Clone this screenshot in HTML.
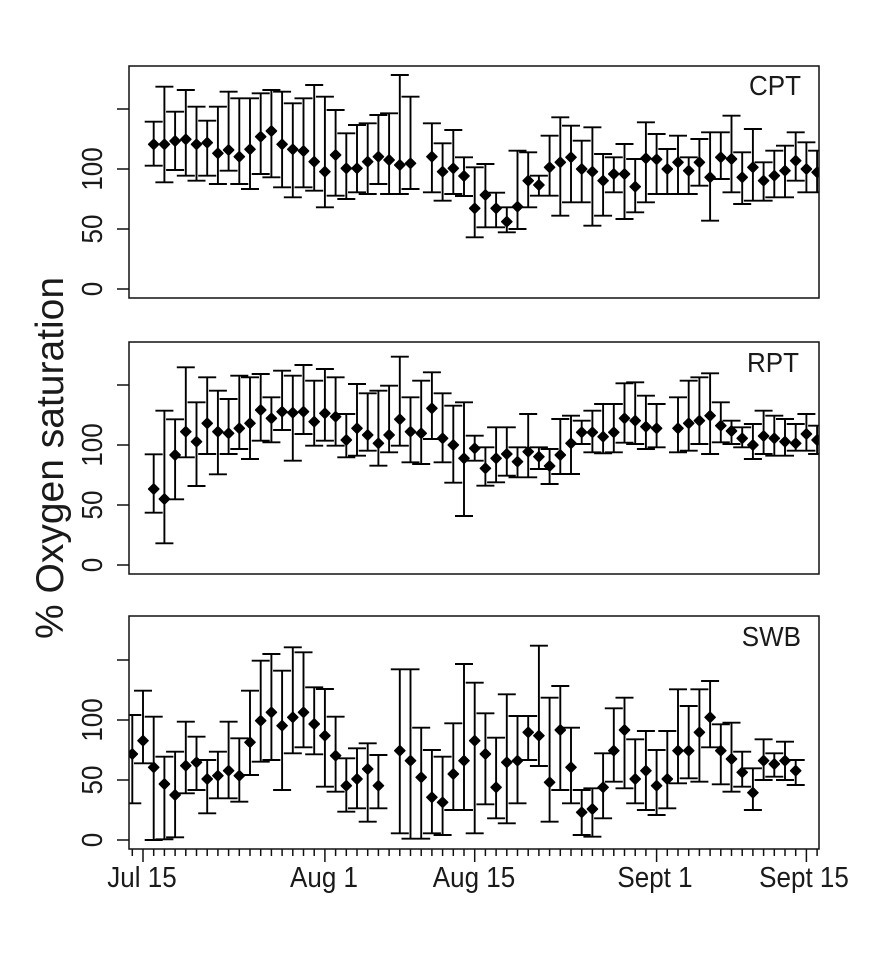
<!DOCTYPE html>
<html><head><meta charset="utf-8"><style>
html,body{margin:0;padding:0;background:#fff;}
svg{display:block;}
text{font-family:"Liberation Sans",Arial,sans-serif;fill:#1a1a1a;}
</style></head><body>
<svg width="884" height="977" viewBox="0 0 884 977" xmlns="http://www.w3.org/2000/svg">
<defs>
<clipPath id="c1"><rect x="129" y="66" width="690" height="232"/></clipPath>
<clipPath id="c2"><rect x="129" y="342" width="690" height="232"/></clipPath>
<clipPath id="c3"><rect x="129" y="616" width="690" height="233"/></clipPath>
</defs>

<text transform="translate(63,458) rotate(-90)" text-anchor="middle" font-size="39">% Oxygen saturation</text>

<g clip-path="url(#c1)">
<path fill="none" stroke="#000" stroke-width="1.9" d="M153.7 121.7V165.7M144.7 121.7h18M144.7 165.7h18
M164.4 86.7V182.3M155.4 86.7h18M155.4 182.3h18
M175.1 111.7V170M166.1 111.7h18M166.1 170h18
M185.8 90V175.7M176.8 90h18M176.8 175.7h18
M196.5 106.7V180.7M187.5 106.7h18M187.5 180.7h18
M207.2 120.7V175.7M198.2 120.7h18M198.2 175.7h18
M217.9 106.7V184M208.9 106.7h18M208.9 184h18
M228.6 91.7V170.7M219.6 91.7h18M219.6 170.7h18
M239.3 98.3V184M230.3 98.3h18M230.3 184h18
M250 98.3V189M241 98.3h18M241 189h18
M260.7 93.3V174M251.7 93.3h18M251.7 174h18
M271.4 90V177.3M262.4 90h18M262.4 177.3h18
M282.1 91.7V187.3M273.1 91.7h18M273.1 187.3h18
M292.8 103.3V197.3M283.8 103.3h18M283.8 197.3h18
M303.5 98.3V187.3M294.5 98.3h18M294.5 187.3h18
M314.2 85V190.7M305.2 85h18M305.2 190.7h18
M324.9 96.7V207.3M315.9 96.7h18M315.9 207.3h18
M335.6 110V195.7M326.6 110h18M326.6 195.7h18
M346.3 133.3V199M337.3 133.3h18M337.3 199h18
M357 125V192.3M348 125h18M348 192.3h18
M367.7 123.3V194M358.7 123.3h18M358.7 194h18
M378.4 115V184M369.4 115h18M369.4 184h18
M389.1 113.3V194M380.1 113.3h18M380.1 194h18
M399.8 75V194M390.8 75h18M390.8 194h18
M410.5 96.7V189M401.5 96.7h18M401.5 189h18
M431.9 123.3V192.3M422.9 123.3h18M422.9 192.3h18
M442.6 143.3V200.7M433.6 143.3h18M433.6 200.7h18
M453.3 130V194M444.3 130h18M444.3 194h18
M464 157.3V196M455 157.3h18M455 196h18
M474.7 167.3V237.3M465.7 167.3h18M465.7 237.3h18
M485.4 164V227.3M476.4 164h18M476.4 227.3h18
M496.1 192.7V227.3M487.1 192.7h18M487.1 227.3h18
M506.8 207.3V232.3M497.8 207.3h18M497.8 232.3h18
M517.5 150.7V229M508.5 150.7h18M508.5 229h18
M528.2 152.3V207.3M519.2 152.3h18M519.2 207.3h18
M538.9 175.7V195.7M529.9 175.7h18M529.9 195.7h18
M549.6 135.7V195.7M540.6 135.7h18M540.6 195.7h18
M560.3 117.3V215.7M551.3 117.3h18M551.3 215.7h18
M571 125.7V202.3M562 125.7h18M562 202.3h18
M581.7 140.7V202.3M572.7 140.7h18M572.7 202.3h18
M592.4 127.3V225.7M583.4 127.3h18M583.4 225.7h18
M603.1 154V215.7M594.1 154h18M594.1 215.7h18
M613.8 157.3V192.3M604.8 157.3h18M604.8 192.3h18
M624.5 144V219M615.5 144h18M615.5 219h18
M635.2 159V212.3M626.2 159h18M626.2 212.3h18
M645.9 122.3V202.3M636.9 122.3h18M636.9 202.3h18
M656.6 134V194M647.6 134h18M647.6 194h18
M667.3 149V194M658.3 149h18M658.3 194h18
M678 135.7V194M669 135.7h18M669 194h18
M688.7 157.3V194M679.7 157.3h18M679.7 194h18
M699.4 139V185.7M690.4 139h18M690.4 185.7h18
M710.1 132.3V220.7M701.1 132.3h18M701.1 220.7h18
M720.8 132.3V179M711.8 132.3h18M711.8 179h18
M731.5 115.7V192.3M722.5 115.7h18M722.5 192.3h18
M742.2 152.3V204M733.2 152.3h18M733.2 204h18
M752.9 129V200.7M743.9 129h18M743.9 200.7h18
M763.6 162.3V200.7M754.6 162.3h18M754.6 200.7h18
M774.3 150.7V197.3M765.3 150.7h18M765.3 197.3h18
M785 145.7V197.3M776 145.7h18M776 197.3h18
M795.7 132.3V180.7M786.7 132.3h18M786.7 180.7h18
M806.4 142.3V192.3M797.4 142.3h18M797.4 192.3h18
M817.1 150.7V192.3M808.1 150.7h18M808.1 192.3h18"/>
<path fill="#000" stroke="#000" stroke-width="1.6" stroke-linejoin="round" d="M153.7 139.3l5 5-5 5-5-5z
M164.4 139.3l5 5-5 5-5-5z
M175.1 136l5 5-5 5-5-5z
M185.8 134.3l5 5-5 5-5-5z
M196.5 139.3l5 5-5 5-5-5z
M207.2 137.7l5 5-5 5-5-5z
M217.9 148.3l5 5-5 5-5-5z
M228.6 145l5 5-5 5-5-5z
M239.3 151.7l5 5-5 5-5-5z
M250 144.3l5 5-5 5-5-5z
M260.7 131.7l5 5-5 5-5-5z
M271.4 126l5 5-5 5-5-5z
M282.1 139.3l5 5-5 5-5-5z
M292.8 144.3l5 5-5 5-5-5z
M303.5 146l5 5-5 5-5-5z
M314.2 156.7l5 5-5 5-5-5z
M324.9 166.7l5 5-5 5-5-5z
M335.6 150l5 5-5 5-5-5z
M346.3 163.3l5 5-5 5-5-5z
M357 163.3l5 5-5 5-5-5z
M367.7 156.7l5 5-5 5-5-5z
M378.4 151.7l5 5-5 5-5-5z
M389.1 155l5 5-5 5-5-5z
M399.8 160l5 5-5 5-5-5z
M410.5 158.3l5 5-5 5-5-5z
M431.9 151.7l5 5-5 5-5-5z
M442.6 166.7l5 5-5 5-5-5z
M453.3 163.3l5 5-5 5-5-5z
M464 171l5 5-5 5-5-5z
M474.7 203.3l5 5-5 5-5-5z
M485.4 190l5 5-5 5-5-5z
M496.1 203.3l5 5-5 5-5-5z
M506.8 216.7l5 5-5 5-5-5z
M517.5 201.7l5 5-5 5-5-5z
M528.2 175.7l5 5-5 5-5-5z
M538.9 180l5 5-5 5-5-5z
M549.6 162.3l5 5-5 5-5-5z
M560.3 157.3l5 5-5 5-5-5z
M571 152.3l5 5-5 5-5-5z
M581.7 164l5 5-5 5-5-5z
M592.4 166.7l5 5-5 5-5-5z
M603.1 175.7l5 5-5 5-5-5z
M613.8 169l5 5-5 5-5-5z
M624.5 169l5 5-5 5-5-5z
M635.2 181.7l5 5-5 5-5-5z
M645.9 153.3l5 5-5 5-5-5z
M656.6 154.3l5 5-5 5-5-5z
M667.3 164l5 5-5 5-5-5z
M678 157.3l5 5-5 5-5-5z
M688.7 165.7l5 5-5 5-5-5z
M699.4 157.3l5 5-5 5-5-5z
M710.1 172.3l5 5-5 5-5-5z
M720.8 152.3l5 5-5 5-5-5z
M731.5 154l5 5-5 5-5-5z
M742.2 172.3l5 5-5 5-5-5z
M752.9 162.3l5 5-5 5-5-5z
M763.6 175.7l5 5-5 5-5-5z
M774.3 170.7l5 5-5 5-5-5z
M785 165.7l5 5-5 5-5-5z
M795.7 155.7l5 5-5 5-5-5z
M806.4 164l5 5-5 5-5-5z
M817.1 167.3l5 5-5 5-5-5z"/>
</g>
<rect x="129" y="66" width="690" height="232" fill="none" stroke="#111" stroke-width="1.5"/>
<path stroke="#111" stroke-width="1.5" d="M117 289h12M117 229h12M117 169h12M117 109h12"/>
<text transform="translate(102,289) rotate(-90) scale(1,1.1)" text-anchor="middle" font-size="26">0</text>
<text transform="translate(102,229) rotate(-90) scale(1,1.1)" text-anchor="middle" font-size="26">50</text>
<text transform="translate(102,169) rotate(-90) scale(1,1.1)" text-anchor="middle" font-size="26">100</text>
<text transform="translate(801,95) scale(1,1.08)" text-anchor="end" font-size="26">CPT</text>

<g clip-path="url(#c2)">
<path fill="none" stroke="#000" stroke-width="1.9" d="M153.7 454.3V512.7M144.7 454.3h18M144.7 512.7h18
M164.4 410.7V543.3M155.4 410.7h18M155.4 543.3h18
M175.1 419.3V499.3M166.1 419.3h18M166.1 499.3h18
M185.8 367.3V457.3M176.8 367.3h18M176.8 457.3h18
M196.5 402.3V486M187.5 402.3h18M187.5 486h18
M207.2 377.3V454M198.2 377.3h18M198.2 454h18
M217.9 390.7V474.3M208.9 390.7h18M208.9 474.3h18
M228.6 399V454M219.6 399h18M219.6 454h18
M239.3 375.7V449M230.3 375.7h18M230.3 449h18
M250 377.3V459M241 377.3h18M241 459h18
M260.7 374V440.7M251.7 374h18M251.7 440.7h18
M271.4 397.3V442.3M262.4 397.3h18M262.4 442.3h18
M282.1 370.7V430M273.1 370.7h18M273.1 430h18
M292.8 375.7V460.7M283.8 375.7h18M283.8 460.7h18
M303.5 365V434M294.5 365h18M294.5 434h18
M314.2 380.7V445.7M305.2 380.7h18M305.2 445.7h18
M324.9 369V440.7M315.9 369h18M315.9 440.7h18
M335.6 377.3V445.7M326.6 377.3h18M326.6 445.7h18
M346.3 414V457.3M337.3 414h18M337.3 457.3h18
M357 384V455.7M348 384h18M348 455.7h18
M367.7 393.3V450.7M358.7 393.3h18M358.7 450.7h18
M378.4 390.7V465.7M369.4 390.7h18M369.4 465.7h18
M389.1 385.7V452.3M380.1 385.7h18M380.1 452.3h18
M399.8 356.7V445.7M390.8 356.7h18M390.8 445.7h18
M410.5 397.3V462.3M401.5 397.3h18M401.5 462.3h18
M421.2 380.7V464M412.2 380.7h18M412.2 464h18
M431.9 372.3V439M422.9 372.3h18M422.9 439h18
M442.6 393.3V462.3M433.6 393.3h18M433.6 462.3h18
M453.3 405.7V482.7M444.3 405.7h18M444.3 482.7h18
M464 402.3V516M455 402.3h18M455 516h18
M474.7 435.7V460.7M465.7 435.7h18M465.7 460.7h18
M485.4 447.3V485.7M476.4 447.3h18M476.4 485.7h18
M496.1 427.3V482.3M487.1 427.3h18M487.1 482.3h18
M506.8 427.3V475.7M497.8 427.3h18M497.8 475.7h18
M517.5 447.3V477.3M508.5 447.3h18M508.5 477.3h18
M528.2 414V477.3M519.2 414h18M519.2 477.3h18
M538.9 447.3V469M529.9 447.3h18M529.9 469h18
M549.6 449V484M540.6 449h18M540.6 484h18
M560.3 419V474M551.3 419h18M551.3 474h18
M571 415.7V474M562 415.7h18M562 474h18
M581.7 420.7V444M572.7 420.7h18M572.7 444h18
M592.4 410.7V452.3M583.4 410.7h18M583.4 452.3h18
M603.1 404V453.3M594.1 404h18M594.1 453.3h18
M613.8 404V452.3M604.8 404h18M604.8 452.3h18
M624.5 383.3V442.7M615.5 383.3h18M615.5 442.7h18
M635.2 382.3V444M626.2 382.3h18M626.2 444h18
M645.9 395.7V449M636.9 395.7h18M636.9 449h18
M656.6 404V447.3M647.6 404h18M647.6 447.3h18
M678 397.3V452.3M669 397.3h18M669 452.3h18
M688.7 380.7V450.7M679.7 380.7h18M679.7 450.7h18
M699.4 377.3V444M690.4 377.3h18M690.4 444h18
M710.1 373.3V454M701.1 373.3h18M701.1 454h18
M720.8 402.3V442.3M711.8 402.3h18M711.8 442.3h18
M731.5 420.7V444M722.5 420.7h18M722.5 444h18
M742.2 427.3V447.3M733.2 427.3h18M733.2 447.3h18
M752.9 424V459M743.9 424h18M743.9 459h18
M763.6 410.7V454M754.6 410.7h18M754.6 454h18
M774.3 415.7V455.7M765.3 415.7h18M765.3 455.7h18
M785 419V455.7M776 419h18M776 455.7h18
M795.7 424V450.7M786.7 424h18M786.7 450.7h18
M806.4 414V450.7M797.4 414h18M797.4 450.7h18
M817.1 425.7V454M808.1 425.7h18M808.1 454h18"/>
<path fill="#000" stroke="#000" stroke-width="1.6" stroke-linejoin="round" d="M153.7 484l5 5-5 5-5-5z
M164.4 494l5 5-5 5-5-5z
M175.1 450l5 5-5 5-5-5z
M185.8 426.7l5 5-5 5-5-5z
M196.5 436.7l5 5-5 5-5-5z
M207.2 418.3l5 5-5 5-5-5z
M217.9 426.7l5 5-5 5-5-5z
M228.6 428.3l5 5-5 5-5-5z
M239.3 423.3l5 5-5 5-5-5z
M250 418.3l5 5-5 5-5-5z
M260.7 405l5 5-5 5-5-5z
M271.4 413.3l5 5-5 5-5-5z
M282.1 406.7l5 5-5 5-5-5z
M292.8 407.7l5 5-5 5-5-5z
M303.5 406.7l5 5-5 5-5-5z
M314.2 416.7l5 5-5 5-5-5z
M324.9 408.3l5 5-5 5-5-5z
M335.6 411.7l5 5-5 5-5-5z
M346.3 435l5 5-5 5-5-5z
M357 423.3l5 5-5 5-5-5z
M367.7 430l5 5-5 5-5-5z
M378.4 438.3l5 5-5 5-5-5z
M389.1 430l5 5-5 5-5-5z
M399.8 414.3l5 5-5 5-5-5z
M410.5 426.7l5 5-5 5-5-5z
M421.2 428.3l5 5-5 5-5-5z
M431.9 403.3l5 5-5 5-5-5z
M442.6 433.3l5 5-5 5-5-5z
M453.3 440l5 5-5 5-5-5z
M464 453.3l5 5-5 5-5-5z
M474.7 443.3l5 5-5 5-5-5z
M485.4 463.3l5 5-5 5-5-5z
M496.1 453.3l5 5-5 5-5-5z
M506.8 449l5 5-5 5-5-5z
M517.5 456.7l5 5-5 5-5-5z
M528.2 446.7l5 5-5 5-5-5z
M538.9 451.7l5 5-5 5-5-5z
M549.6 461l5 5-5 5-5-5z
M560.3 450l5 5-5 5-5-5z
M571 438.3l5 5-5 5-5-5z
M581.7 427.3l5 5-5 5-5-5z
M592.4 427.3l5 5-5 5-5-5z
M603.1 431.7l5 5-5 5-5-5z
M613.8 427.3l5 5-5 5-5-5z
M624.5 413.3l5 5-5 5-5-5z
M635.2 415.7l5 5-5 5-5-5z
M645.9 421.7l5 5-5 5-5-5z
M656.6 423.3l5 5-5 5-5-5z
M678 423.3l5 5-5 5-5-5z
M688.7 418.3l5 5-5 5-5-5z
M699.4 415.7l5 5-5 5-5-5z
M710.1 410.7l5 5-5 5-5-5z
M720.8 420.7l5 5-5 5-5-5z
M731.5 426l5 5-5 5-5-5z
M742.2 433.3l5 5-5 5-5-5z
M752.9 440l5 5-5 5-5-5z
M763.6 431l5 5-5 5-5-5z
M774.3 433.3l5 5-5 5-5-5z
M785 436.7l5 5-5 5-5-5z
M795.7 438.3l5 5-5 5-5-5z
M806.4 429l5 5-5 5-5-5z
M817.1 435l5 5-5 5-5-5z"/>
</g>
<rect x="129" y="342" width="690" height="232" fill="none" stroke="#111" stroke-width="1.5"/>
<path stroke="#111" stroke-width="1.5" d="M117 565h12M117 505h12M117 445h12M117 385h12"/>
<text transform="translate(102,565) rotate(-90) scale(1,1.1)" text-anchor="middle" font-size="26">0</text>
<text transform="translate(102,505) rotate(-90) scale(1,1.1)" text-anchor="middle" font-size="26">50</text>
<text transform="translate(102,445) rotate(-90) scale(1,1.1)" text-anchor="middle" font-size="26">100</text>
<text transform="translate(799,372) scale(1,1.08)" text-anchor="end" font-size="26">RPT</text>

<g clip-path="url(#c3)">
<path fill="none" stroke="#000" stroke-width="1.9" d="M132.3 715V803.3M123.3 715h18M123.3 803.3h18
M143 690.7V763.3M134 690.7h18M134 763.3h18
M153.7 716.7V840M144.7 716.7h18M144.7 840h18
M164.4 756.7V839.3M155.4 756.7h18M155.4 839.3h18
M175.1 751.7V837.3M166.1 751.7h18M166.1 837.3h18
M185.8 721.7V793.3M176.8 721.7h18M176.8 793.3h18
M196.5 736.7V790M187.5 736.7h18M187.5 790h18
M207.2 760V813.3M198.2 760h18M198.2 813.3h18
M217.9 751.7V798.3M208.9 751.7h18M208.9 798.3h18
M228.6 721.7V798.3M219.6 721.7h18M219.6 798.3h18
M239.3 738.3V801.7M230.3 738.3h18M230.3 801.7h18
M250 690.7V775M241 690.7h18M241 775h18
M260.7 660.7V761.7M251.7 660.7h18M251.7 761.7h18
M271.4 654V760M262.4 654h18M262.4 760h18
M282.1 670.7V790M273.1 670.7h18M273.1 790h18
M292.8 647.3V753.3M283.8 647.3h18M283.8 753.3h18
M303.5 652.3V747.3M294.5 652.3h18M294.5 747.3h18
M314.2 687.3V754.3M305.2 687.3h18M305.2 754.3h18
M324.9 689V786.7M315.9 689h18M315.9 786.7h18
M335.6 716.7V791.7M326.6 716.7h18M326.6 791.7h18
M346.3 758.3V811.7M337.3 758.3h18M337.3 811.7h18
M357 748.3V808.3M348 748.3h18M348 808.3h18
M367.7 743.3V821.7M358.7 743.3h18M358.7 821.7h18
M378.4 755V808.3M369.4 755h18M369.4 808.3h18
M399.8 669.3V833.3M390.8 669.3h18M390.8 833.3h18
M410.5 669.3V838.7M401.5 669.3h18M401.5 838.7h18
M421.2 727.7V838.7M412.2 727.7h18M412.2 838.7h18
M431.9 750V833.3M422.9 750h18M422.9 833.3h18
M442.6 756.7V835M433.6 756.7h18M433.6 835h18
M453.3 723.3V810M444.3 723.3h18M444.3 810h18
M464 664V810M455 664h18M455 810h18
M474.7 682.7V833.3M465.7 682.7h18M465.7 833.3h18
M485.4 713.3V804.3M476.4 713.3h18M476.4 804.3h18
M496.1 737.7V818.3M487.1 737.7h18M487.1 818.3h18
M506.8 694.3V823.3M497.8 694.3h18M497.8 823.3h18
M517.5 716V803.3M508.5 716h18M508.5 803.3h18
M528.2 716V760M519.2 716h18M519.2 760h18
M538.9 645.7V766M529.9 645.7h18M529.9 766h18
M549.6 697.7V821.7M540.6 697.7h18M540.6 821.7h18
M560.3 686V790M551.3 686h18M551.3 790h18
M571 727.7V803.3M562 727.7h18M562 803.3h18
M581.7 790V835M572.7 790h18M572.7 835h18
M592.4 788.3V836.7M583.4 788.3h18M583.4 836.7h18
M603.1 753.3V818.3M594.1 753.3h18M594.1 818.3h18
M613.8 708.3V781.7M604.8 708.3h18M604.8 781.7h18
M624.5 697.7V788.3M615.5 697.7h18M615.5 788.3h18
M635.2 739.3V803.3M626.2 739.3h18M626.2 803.3h18
M645.9 731V810M636.9 731h18M636.9 810h18
M656.6 750V815M647.6 750h18M647.6 815h18
M667.3 731V808.3M658.3 731h18M658.3 808.3h18
M678 689.3V783.3M669 689.3h18M669 783.3h18
M688.7 706V778.3M679.7 706h18M679.7 778.3h18
M699.4 689.3V781.7M690.4 689.3h18M690.4 781.7h18
M710.1 681V747.3M701.1 681h18M701.1 747.3h18
M720.8 724.3V784.3M711.8 724.3h18M711.8 784.3h18
M731.5 722.7V791.7M722.5 722.7h18M722.5 791.7h18
M742.2 751.7V786.7M733.2 751.7h18M733.2 786.7h18
M752.9 768.3V810M743.9 768.3h18M743.9 810h18
M763.6 739.3V780M754.6 739.3h18M754.6 780h18
M774.3 753.3V776.7M765.3 753.3h18M765.3 776.7h18
M785 741.7V780M776 741.7h18M776 780h18
M795.7 760V785M786.7 760h18M786.7 785h18"/>
<path fill="#000" stroke="#000" stroke-width="1.6" stroke-linejoin="round" d="M132.3 749l5 5-5 5-5-5z
M143 735.7l5 5-5 5-5-5z
M153.7 762.3l5 5-5 5-5-5z
M164.4 779l5 5-5 5-5-5z
M175.1 790l5 5-5 5-5-5z
M185.8 760.7l5 5-5 5-5-5z
M196.5 757.3l5 5-5 5-5-5z
M207.2 774l5 5-5 5-5-5z
M217.9 770.7l5 5-5 5-5-5z
M228.6 765.7l5 5-5 5-5-5z
M239.3 770.7l5 5-5 5-5-5z
M250 737.3l5 5-5 5-5-5z
M260.7 715.7l5 5-5 5-5-5z
M271.4 707.3l5 5-5 5-5-5z
M282.1 720.7l5 5-5 5-5-5z
M292.8 712.3l5 5-5 5-5-5z
M303.5 707.3l5 5-5 5-5-5z
M314.2 719l5 5-5 5-5-5z
M324.9 730.7l5 5-5 5-5-5z
M335.6 750.7l5 5-5 5-5-5z
M346.3 780.7l5 5-5 5-5-5z
M357 774l5 5-5 5-5-5z
M367.7 764l5 5-5 5-5-5z
M378.4 780.7l5 5-5 5-5-5z
M399.8 745.7l5 5-5 5-5-5z
M410.5 755.7l5 5-5 5-5-5z
M421.2 772.3l5 5-5 5-5-5z
M431.9 792.3l5 5-5 5-5-5z
M442.6 797.3l5 5-5 5-5-5z
M453.3 769l5 5-5 5-5-5z
M464 755.7l5 5-5 5-5-5z
M474.7 735.7l5 5-5 5-5-5z
M485.4 749l5 5-5 5-5-5z
M496.1 782.3l5 5-5 5-5-5z
M506.8 757.3l5 5-5 5-5-5z
M517.5 755.7l5 5-5 5-5-5z
M528.2 727.3l5 5-5 5-5-5z
M538.9 730.7l5 5-5 5-5-5z
M549.6 777.3l5 5-5 5-5-5z
M560.3 725l5 5-5 5-5-5z
M571 762.3l5 5-5 5-5-5z
M581.7 807.3l5 5-5 5-5-5z
M592.4 804l5 5-5 5-5-5z
M603.1 782.3l5 5-5 5-5-5z
M613.8 745.7l5 5-5 5-5-5z
M624.5 725l5 5-5 5-5-5z
M635.2 774l5 5-5 5-5-5z
M645.9 765.7l5 5-5 5-5-5z
M656.6 780.7l5 5-5 5-5-5z
M667.3 774l5 5-5 5-5-5z
M678 745.7l5 5-5 5-5-5z
M688.7 745.7l5 5-5 5-5-5z
M699.4 727.3l5 5-5 5-5-5z
M710.1 712.3l5 5-5 5-5-5z
M720.8 745.7l5 5-5 5-5-5z
M731.5 754l5 5-5 5-5-5z
M742.2 767.3l5 5-5 5-5-5z
M752.9 787.7l5 5-5 5-5-5z
M763.6 755.7l5 5-5 5-5-5z
M774.3 759l5 5-5 5-5-5z
M785 755.7l5 5-5 5-5-5z
M795.7 765.7l5 5-5 5-5-5z"/>
</g>
<rect x="129" y="616" width="690" height="233" fill="none" stroke="#111" stroke-width="1.5"/>
<path stroke="#111" stroke-width="1.5" d="M117 840h12M117 780h12M117 720h12M117 660h12"/>
<text transform="translate(102,840) rotate(-90) scale(1,1.1)" text-anchor="middle" font-size="26">0</text>
<text transform="translate(102,780) rotate(-90) scale(1,1.1)" text-anchor="middle" font-size="26">50</text>
<text transform="translate(102,720) rotate(-90) scale(1,1.1)" text-anchor="middle" font-size="26">100</text>
<text transform="translate(801,646) scale(1,1.08)" text-anchor="end" font-size="26">SWB</text>

<path stroke="#111" stroke-width="1.5" d="M132.3 849v7M153.7 849v7M164.4 849v7M175.1 849v7M185.8 849v7M196.5 849v7M207.2 849v7M217.9 849v7M228.6 849v7M239.3 849v7M250 849v7M260.7 849v7M271.4 849v7M282.1 849v7M292.8 849v7M303.5 849v7M314.2 849v7M335.6 849v7M346.3 849v7M357 849v7M367.7 849v7M378.4 849v7M389.1 849v7M399.8 849v7M410.5 849v7M421.2 849v7M431.9 849v7M442.6 849v7M453.3 849v7M464 849v7M485.4 849v7M496.1 849v7M506.8 849v7M517.5 849v7M528.2 849v7M538.9 849v7M549.6 849v7M560.3 849v7M571 849v7M581.7 849v7M592.4 849v7M603.1 849v7M613.8 849v7M624.5 849v7M635.2 849v7M645.9 849v7M667.3 849v7M678 849v7M688.7 849v7M699.4 849v7M710.1 849v7M720.8 849v7M731.5 849v7M742.2 849v7M752.9 849v7M763.6 849v7M774.3 849v7M785 849v7M795.7 849v7M817.1 849v7
M143 849v13M324.9 849v13M474.7 849v13M656.6 849v13M806.4 849v13"/>
<text transform="translate(142,887) scale(1,1.1)" text-anchor="middle" font-size="26">Jul 15</text>
<text transform="translate(324,887) scale(1,1.1)" text-anchor="middle" font-size="26">Aug 1</text>
<text transform="translate(474,887) scale(1,1.1)" text-anchor="middle" font-size="26">Aug 15</text>
<text transform="translate(655,887) scale(1,1.1)" text-anchor="middle" font-size="26">Sept 1</text>
<text transform="translate(804,887) scale(1,1.1)" text-anchor="middle" font-size="26">Sept 15</text>
</svg>
</body></html>
